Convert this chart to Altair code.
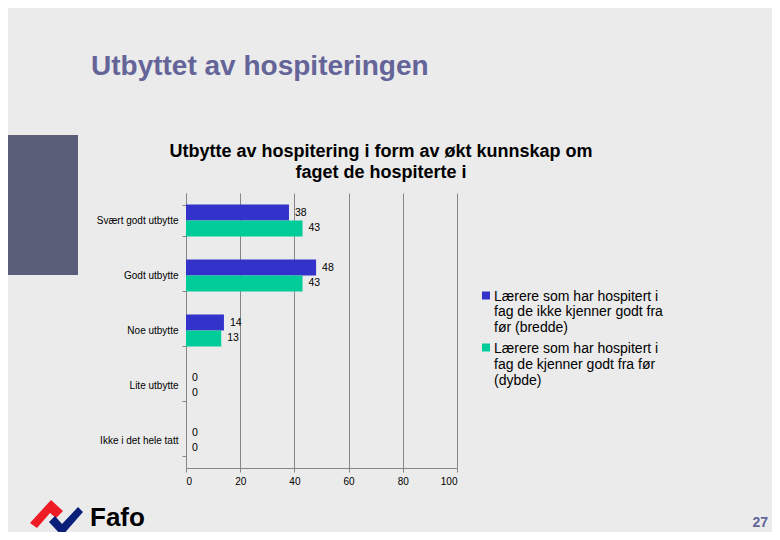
import altair as alt
import pandas as pd

# ---- data ----
categories = ["Svært godt utbytte", "Godt utbytte", "Noe utbytte", "Lite utbytte", "Ikke i det hele tatt"]
series_names = ["Lærere som har hospitert i fag de ikke kjenner godt fra før (bredde)",
                "Lærere som har hospitert i fag de kjenner godt fra før (dybde)"]
bredde = [38, 48, 14, 0, 0]
dybde = [43, 43, 13, 0, 0]
x_ticks = [0, 20, 40, 60, 80, 100]

legend_labels = ["Lærere som har hospitert i\nfag de ikke kjenner godt fra\nfør (bredde)",
                 "Lærere som har hospitert i\nfag de kjenner godt fra før\n(dybde)"]
series_colors = ["#3333cc", "#00cc99"]

main_title = "Utbyttet av hospiteringen"
chart_title = ["Utbytte av hospitering i form av økt kunnskap om", "faget de hospiterte i"]
page_no = "27"

rows = []
for i, c in enumerate(categories):
    rows.append({"kategori": c, "serie": series_names[0], "verdi": bredde[i]})
    rows.append({"kategori": c, "serie": series_names[1], "verdi": dybde[i]})
df = pd.DataFrame(rows)

FONT = "Liberation Sans"
GRID = "#868686"

y_enc = alt.Y("kategori:N", sort=categories,
              scale=alt.Scale(paddingInner=0.42, paddingOuter=0.21),
              axis=alt.Axis(title=None, grid=False, tickBand="extent", tickSize=4,
                            labelPadding=4, labelFontSize=10, labelColor="black",
                            labelFont=FONT, domainColor=GRID, tickColor=GRID,
                            labelLimit=200))
x_enc = alt.X("verdi:Q", scale=alt.Scale(domain=[0, 100], nice=False),
              axis=alt.Axis(title=None, values=x_ticks, grid=True, gridColor=GRID,
                            domainColor=GRID, tickColor=GRID, tickSize=4,
                            labelFontSize=10, labelColor="black", labelFont=FONT,
                            labelPadding=4))
yoff = alt.YOffset("serie:N", sort=series_names, scale=alt.Scale(paddingInner=0, paddingOuter=0))
color = alt.Color("serie:N", sort=series_names,
                  scale=alt.Scale(domain=series_names, range=series_colors), legend=None)

bars = alt.Chart(df).mark_bar().encode(x=x_enc, y=y_enc, yOffset=yoff, color=color)
labels = alt.Chart(df).mark_text(align="left", baseline="middle", dx=6, fontSize=10.5,
                                 font=FONT, color="black").encode(
    x="verdi:Q", y=alt.Y("kategori:N", sort=categories), yOffset=alt.YOffset("serie:N", sort=series_names),
    text="verdi:Q")

one = pd.DataFrame({"a": [0]})

# decorations (positions in pixels relative to plot origin)
side_rect = alt.Chart(one).mark_rect(color="#5a5e78").encode(
    x=alt.value(-186), x2=alt.value(-108), y=alt.value(-58), y2=alt.value(82))

title_big = alt.Chart(pd.DataFrame({"t": [main_title]})).mark_text(
    align="left", baseline="alphabetic", fontSize=28, fontWeight="bold", font=FONT,
    color="#646499").encode(x=alt.value(-95), y=alt.value(-118), text="t:N")

ctitle = alt.Chart(pd.DataFrame({"t": chart_title, "yy": [-36, -15]})).mark_text(
    align="center", baseline="alphabetic", fontSize=18, fontWeight="bold", font=FONT,
    color="black").encode(x=alt.value(195), y=alt.Y("yy:Q", scale=None), text="t:N")

leg_df = pd.DataFrame({"lab": legend_labels, "serie": series_names,
                       "sy": [102.5, 154.5], "ty": [107.5, 160]})
leg_sq = alt.Chart(leg_df).mark_point(shape="square", filled=True, size=64, opacity=1).encode(
    x=alt.value(300), y=alt.Y("sy:Q", scale=None),
    color=alt.Color("serie:N", scale=alt.Scale(domain=series_names, range=series_colors), legend=None))
leg_tx = alt.Chart(leg_df).mark_text(align="left", baseline="alphabetic", fontSize=14, font=FONT,
                                     color="black", lineBreak="\n", lineHeight=15.8).encode(
    x=alt.value(308), y=alt.Y("ty:Q", scale=None), text="lab:N")

page = alt.Chart(pd.DataFrame({"t": [page_no]})).mark_text(
    align="right", baseline="alphabetic", fontSize=14, fontWeight="bold", font=FONT,
    color="#646499").encode(x=alt.value(582), y=alt.value(334), text="t:N")

red_path = "M -0.929 0.214 L -0.179 -0.607 L 0.25 -0.214 L 0 0.036 L -0.214 -0.143 L -0.679 0.393 Z"
blue_path = "M -0.25 0.179 L 0.214 0.679 L 0.964 -0.179 L 0.786 -0.357 L 0.214 0.25 L -0.036 -0.036 Z"
logo_red = alt.Chart(one).mark_point(shape=red_path, filled=True, size=3136, color="#ee1c25",
                                     opacity=1).encode(x=alt.value(-130), y=alt.value(324))
logo_blue = alt.Chart(one).mark_point(shape=blue_path, filled=True, size=3136, color="#0b1f7a",
                                      opacity=1).encode(x=alt.value(-130), y=alt.value(324))
fafo = alt.Chart(pd.DataFrame({"t": ["Fafo"]})).mark_text(
    align="left", baseline="alphabetic", fontSize=26, fontWeight="bold", font=FONT,
    color="black").encode(x=alt.value(-96), y=alt.value(333), text="t:N")

chart = alt.layer(side_rect, bars, labels, title_big, ctitle, leg_sq, leg_tx, page,
                  logo_red, logo_blue, fafo).resolve_scale(y="shared").properties(
    width=271, height=275,
    autosize=alt.AutoSizeParams(type="none"),
    padding={"left": 178, "top": 185, "right": 315, "bottom": 64},
    background="#ebebeb",
).configure_view(stroke=None)

chart.save("out.html", embed_options={"renderer": "svg", "actions": False})
